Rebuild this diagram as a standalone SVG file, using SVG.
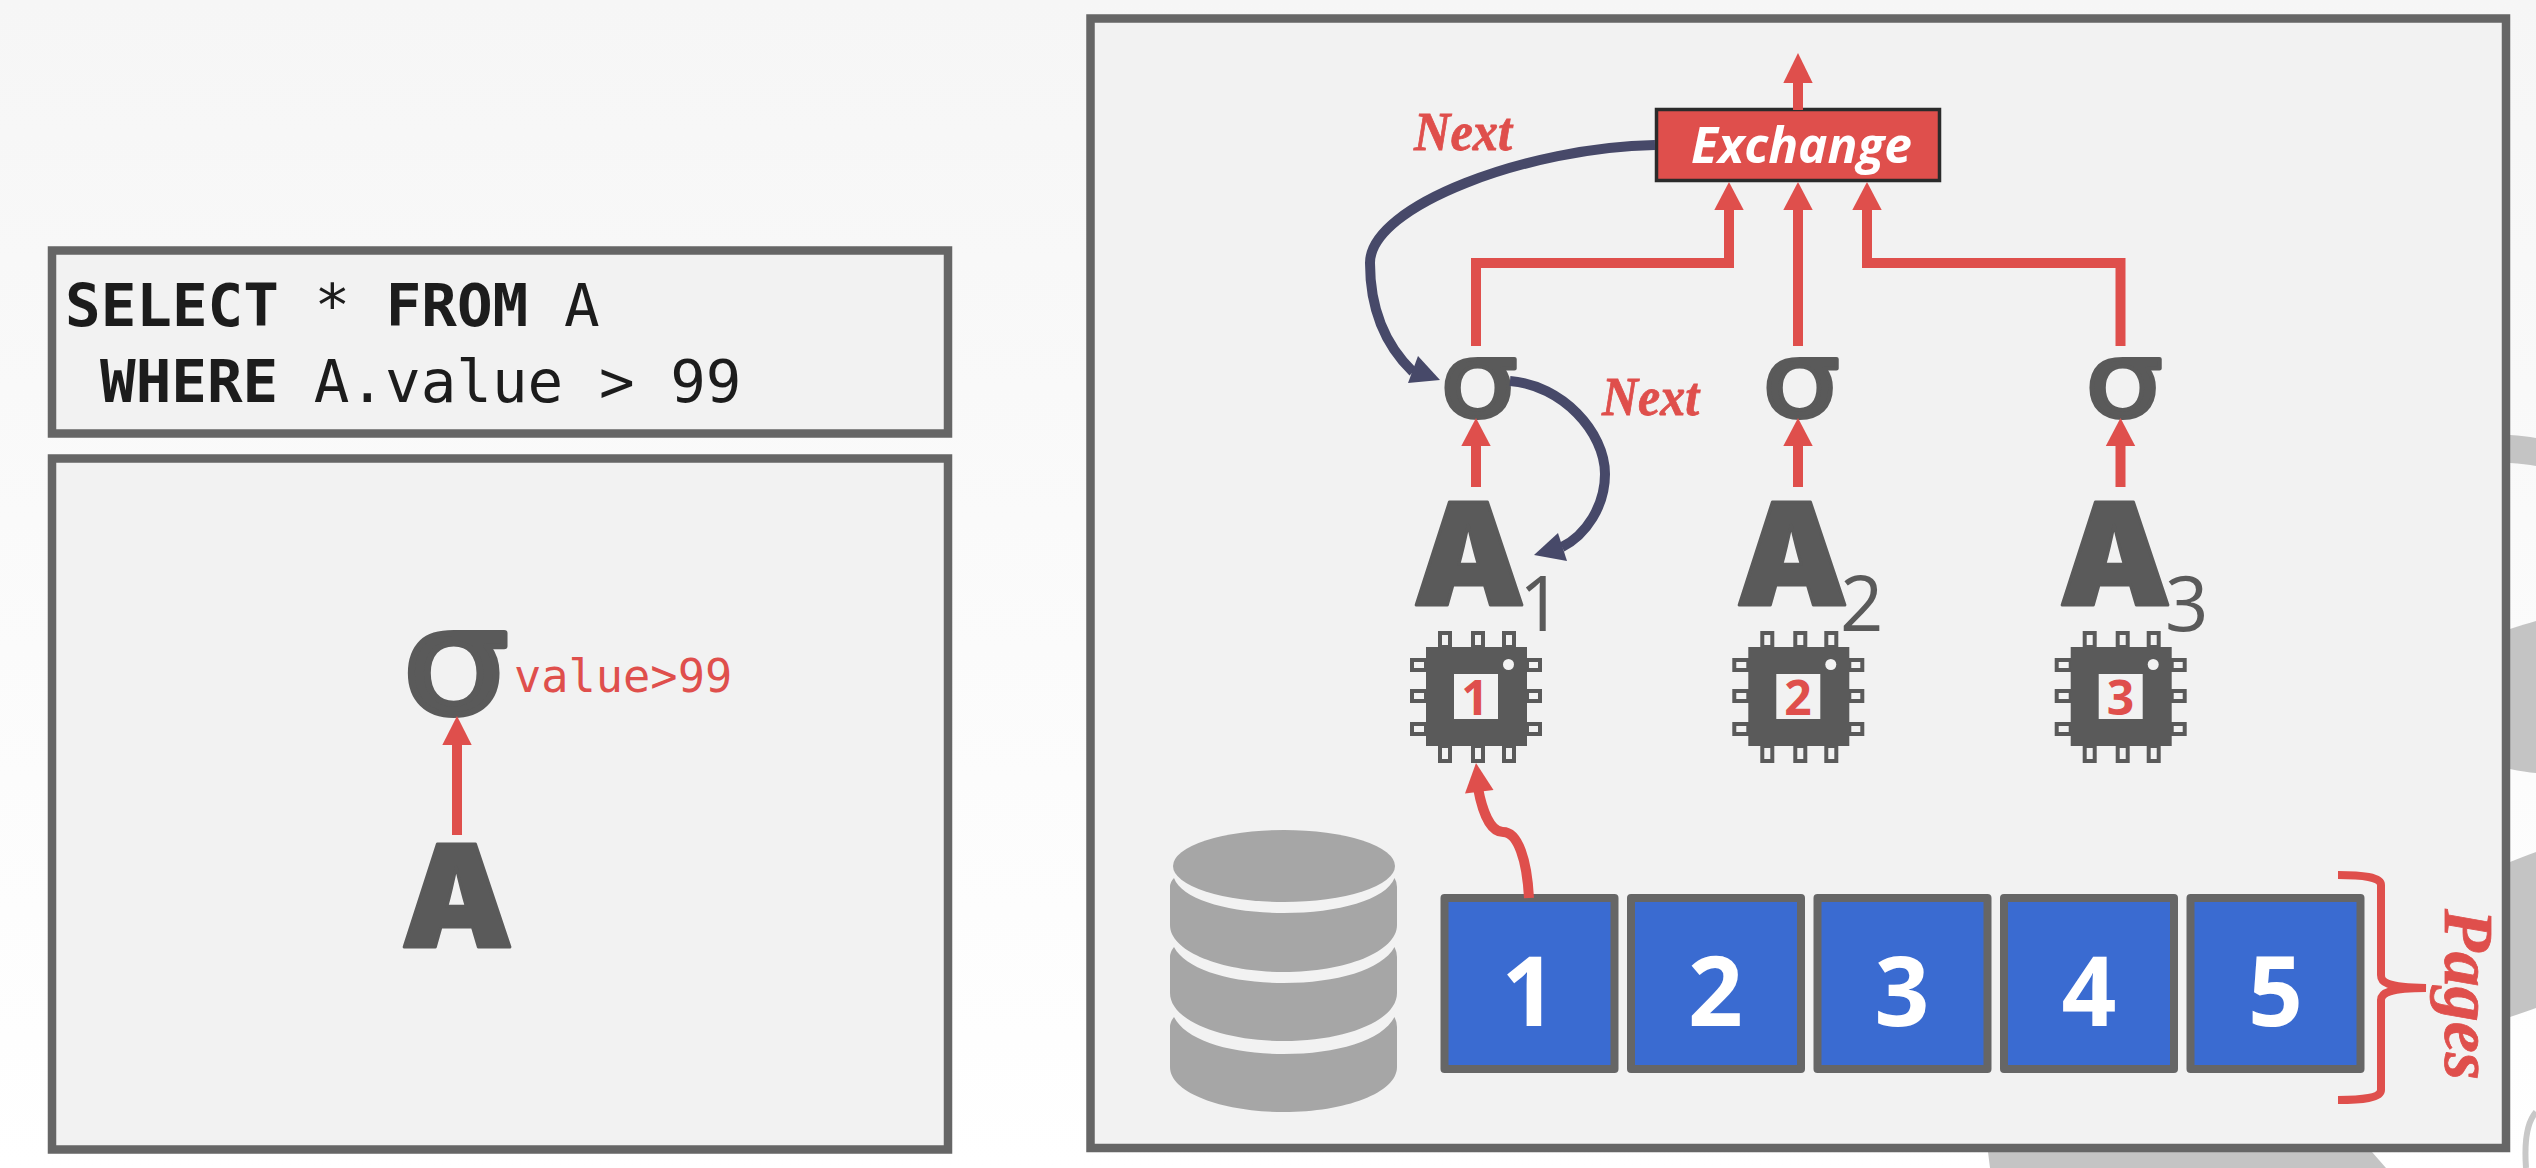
<svg xmlns="http://www.w3.org/2000/svg" width="2536" height="1168" viewBox="0 0 2536 1168">
<defs>
<linearGradient id="bg" x1="0" y1="0" x2="0" y2="1"><stop offset="0" stop-color="#f6f6f6"/><stop offset="1" stop-color="#ffffff"/></linearGradient>
<g id="chip">
<g class="pin"><rect x="1440" y="633" width="10" height="14"/><rect x="1473" y="633" width="10" height="14"/><rect x="1504" y="633" width="10" height="14"/>
<rect x="1440" y="746" width="10" height="15"/><rect x="1473" y="746" width="10" height="15"/><rect x="1504" y="746" width="10" height="15"/>
<rect x="1412" y="660" width="14" height="10"/><rect x="1412" y="691" width="14" height="10"/><rect x="1412" y="724" width="14" height="10"/>
<rect x="1527" y="660" width="13" height="10"/><rect x="1527" y="691" width="13" height="10"/><rect x="1527" y="724" width="13" height="10"/></g>
<rect x="1426" y="647" width="101" height="99" fill="#5a5a5a"/>
<rect x="1454" y="674" width="44" height="45" fill="#f2f2f2"/>
<circle cx="1508.500" cy="664.500" r="5.500" fill="#f2f2f2"/>
</g>
</defs>
<style>
.box{fill:#f2f2f2;stroke:#666;stroke-width:8.500}
.page{fill:#3a6bd1;stroke:#666;stroke-width:8;stroke-linejoin:round}
.pin{fill:#f2f2f2;stroke:#5a5a5a;stroke-width:4}
.red{fill:none;stroke:#df4f4c;stroke-width:10}
.head{fill:#df4f4c}
.dark{fill:none;stroke:#474969;stroke-width:10}
.darkhead{fill:#474969}
.sig{font-family:"DejaVu Sans",sans-serif;font-weight:400;fill:#5a5a5a;stroke:#5a5a5a;stroke-linejoin:round}
.A{font-family:"Inter",sans-serif;font-weight:900;fill:#5a5a5a;stroke:#5a5a5a;stroke-width:3;stroke-linejoin:round;font-size:141px}
.sub{font-family:"Open Sans",sans-serif;font-weight:400;font-size:76px;fill:#5a5a5a}
.next{font-family:"Liberation Serif",serif;font-weight:700;font-style:italic;fill:#df4f4c;font-size:54px;stroke:#df4f4c;stroke-width:.8}
.num{font-family:"Open Sans",sans-serif;font-weight:700;font-size:96px;fill:#fff;text-anchor:middle}
.cnum{font-family:"Open Sans",sans-serif;font-weight:700;font-size:48px;fill:#df4f4c;text-anchor:middle}
.code{font-family:"DejaVu Sans Mono",monospace;font-size:59.200px;fill:#1c1c1c}
.code .b{font-weight:700}
</style>
<rect id="background" width="2536" height="1168" fill="url(#bg)"/>
<g id="backdrop" fill="#c4c4c4">
<path d="M2510 435Q2525 436 2536 438V466Q2525 464 2510 463Z"/>
<path d="M2510 629Q2525 624 2536 621V773Q2525 772 2510 769Z"/>
<path d="M2510 862Q2525 856 2536 852V1008Q2525 1012 2510 1017Z"/>
<path d="M1988 1152H2372L2386 1168H1990Z"/>
<path d="M2536 1112C2527 1122 2524 1140 2526 1168" fill="none" stroke="#c8c8c8" stroke-width="6"/>
</g>
<g id="query"><rect class="box" x="52" y="250.500" width="896" height="183"/>
<text class="code" xml:space="preserve" x="65" y="326"><tspan class="b">SELECT</tspan> * <tspan class="b">FROM</tspan> A</text>
<text class="code" xml:space="preserve" x="100" y="402"><tspan class="b">WHERE</tspan> A.value &gt; 99</text></g>
<g id="plan-left"><rect class="box" x="52" y="458.500" width="896" height="691"/></g>
<g id="plan-right"><rect class="box" x="1090.500" y="18.500" width="1415.500" height="1129.500"/></g>
<g id="sigma-left"><text class="sig" x="402" y="713" font-size="146" stroke-width="6" textLength="107" lengthAdjust="spacingAndGlyphs">σ</text></g>
<g id="A-left"><text class="A" x="401" y="947">A</text></g>
<text x="514" y="692" font-family="DejaVu Sans Mono,monospace" font-size="45.300" fill="#df4f4c">value&gt;99</text>
<g id="exchange"><rect x="1656.500" y="109.500" width="283" height="71" fill="#df4f4c" stroke="#2b2b2b" stroke-width="3.500"/>
<text x="1691" y="163" font-family="Open Sans,sans-serif" font-weight="700" font-style="italic" font-size="50" textLength="221" lengthAdjust="spacingAndGlyphs" fill="#fff">Exchange</text></g>
<text class="next" x="1414" y="150" textLength="98" lengthAdjust="spacingAndGlyphs">Next</text>
<text class="next" x="1602" y="415" textLength="97" lengthAdjust="spacingAndGlyphs">Next</text>
<g id="worker-1"><text class="sig" x="1440" y="417" font-size="106" stroke-width="4" textLength="78" lengthAdjust="spacingAndGlyphs">σ</text><text class="A" x="1413" y="605">A</text><text class="sub" x="1519" y="631">1</text><use href="#chip"/><text class="cnum" x="1475" y="715">1</text></g>
<g id="worker-2"><text class="sig" x="1762" y="417" font-size="106" stroke-width="4" textLength="78" lengthAdjust="spacingAndGlyphs">σ</text><text class="A" x="1736" y="605">A</text><text class="sub" x="1840" y="631">2</text><use href="#chip" x="322.300"/><text class="cnum" x="1798" y="715">2</text></g>
<g id="worker-3"><text class="sig" x="2085" y="417" font-size="106" stroke-width="4" textLength="78" lengthAdjust="spacingAndGlyphs">σ</text><text class="A" x="2059" y="605">A</text><text class="sub" x="2165" y="631">3</text><use href="#chip" x="644.700"/><text class="cnum" x="2120.500" y="715">3</text></g>
<g id="disk" fill="#a6a6a6">
<ellipse cx="1284" cy="866" rx="111" ry="36"/>
<path d="M1174 878C1182 900 1230 913 1284 913C1338 913 1386 900 1394.500 878Q1397 882 1397 887V925C1397 952 1345 972 1284 972C1223 972 1170 952 1170 925V887Q1170 882 1174 878Z"/>
<path d="M1174 947C1186 970 1232 983 1284 983C1336 983 1382 970 1394.500 947Q1397 952 1397 957V993C1397 1021 1345 1041 1284 1041C1223 1041 1170 1021 1170 993V957Q1170 952 1174 947Z"/>
<path d="M1174 1017C1186 1041 1232 1054 1284 1054C1336 1054 1382 1041 1394.500 1017Q1397 1022 1397 1027V1067C1397 1093 1345 1112 1284 1112C1223 1112 1170 1093 1170 1067V1027Q1170 1022 1174 1017Z"/>
</g>
<g id="pages">
<g><rect class="page" x="1444.500" y="898" width="170" height="171"/><text class="num" x="1529" y="1026">1</text></g>
<g><rect class="page" x="1631" y="898" width="170" height="171"/><text class="num" x="1715.500" y="1026">2</text></g>
<g><rect class="page" x="1817.500" y="898" width="170" height="171"/><text class="num" x="1902" y="1026">3</text></g>
<g><rect class="page" x="2004" y="898" width="170" height="171"/><text class="num" x="2089" y="1026">4</text></g>
<g><rect class="page" x="2190.500" y="898" width="170" height="171"/><text class="num" x="2275.500" y="1026">5</text></g>
</g>
<text transform="translate(2445 909) rotate(90)" font-family="Liberation Serif,serif" font-weight="700" font-style="italic" font-size="70" stroke="#df4f4c" stroke-width=".8" fill="#df4f4c">Pages</text>
<g id="connectors">
<path class="red" d="M457 835V740"/><path class="head" d="M457 716L471.700 745H442.300Z"/>
<path class="red" d="M1798 110V80"/><path class="head" d="M1798 53L1812.700 83H1783.300Z"/>
<path class="red" d="M1476 346V263H1729V205"/><path class="head" d="M1729 182L1743.700 210H1714.300Z"/>
<path class="red" d="M1798 346V205"/><path class="head" d="M1798 182L1812.700 210H1783.300Z"/>
<path class="red" d="M2120.500 346V263H1867V205"/><path class="head" d="M1867 182L1881.700 210H1852.300Z"/>
<path class="red" d="M1476 487V440"/><path class="head" d="M1476 418L1490.700 446H1461.300Z"/>
<path class="red" d="M1798 487V440"/><path class="head" d="M1798 418L1812.700 446H1783.300Z"/>
<path class="red" d="M2120.500 487V440"/><path class="head" d="M2120.500 418L2135.200 446H2105.800Z"/>
<path class="red" d="M1529 898C1527 860 1518 832 1503 832C1490 832 1482 810 1478 788"/><path class="head" d="M1476 763L1493.500 790L1465 793.500Z"/>
<path class="dark" d="M1655 145C1530 147 1370 205 1370 263C1370 300 1380 340 1413 372"/><path class="darkhead" d="M1440 380L1418 356L1408 383Z"/>
<path class="dark" d="M1510 381C1562 385 1605 432 1605 474C1605 506 1586 535 1562 547"/><path class="darkhead" d="M1534 555L1558 533L1567 561Z"/>
<path d="M2338 875C2362 875 2381 877 2381 885V975C2381 982 2385 987 2426 988C2390 988 2381 993 2381 1000V1090C2381 1098 2362 1100 2338 1100" fill="none" stroke="#df4f4c" stroke-width="8"/>
</g>
</svg>
